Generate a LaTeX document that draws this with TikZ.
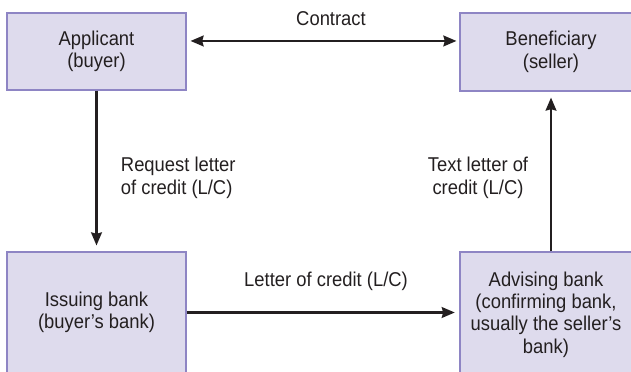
\documentclass[tikz,border=0pt]{standalone}
\usepackage{fontspec}
\setmainfont[FakeStretch=0.92]{Liberation Sans}
\usetikzlibrary{arrows.meta,calc}
\definecolor{boxfill}{HTML}{DEDBED}
\definecolor{boxline}{HTML}{8E85C4}
\definecolor{ink}{HTML}{231F20}
\begin{document}
\begin{tikzpicture}[x=0.75pt,y=-0.75pt,
  >={Stealth[length=9.75pt,width=8pt,inset=1pt]},
  every node/.style={font=\fontsize{15}{16.8}\selectfont, text=ink},
  party/.style={draw=boxline, fill=boxfill, line width=0.8pt, align=center, inner sep=0pt},
  flow/.style={draw=ink, line width=1.9pt},
  lbl/.style={inner sep=0pt}]
\useasboundingbox (0,0) rectangle (631,371);
\clip (0,0) rectangle (631,371);

% the four parties of a documentary credit
\node[party, minimum width=134.25pt, minimum height=57.75pt] (A) at (96.5,51.5) {Applicant\\(buyer)};
\node[party, minimum width=136.5pt, minimum height=58.5pt] (B) at (551,52) {Beneficiary\\(seller)};
\node[party, minimum width=134.25pt, minimum height=90.75pt] (I) at (96.5,312.5) {Issuing bank\\(buyer’s bank)};
\node[party, minimum width=129pt, minimum height=93.75pt] (D) at (546,314.5) {Advising bank\\(confirming bank,\\usually the seller’s\\bank)};

% flows between them
\coordinate (c1) at ([yshift=7.9pt]A.east);
\draw[flow, <->, shorten <=3pt, shorten >=2.25pt] (c1) -- (c1 -| B.west);
\draw[flow, ->, shorten >=4.5pt] (A.south) -- (I.north);
\draw[flow, ->, shorten >=3.5pt] (I.east) -- (I.east -| D.west);
\draw[flow, ->, shorten >=4.5pt] (B.south |- D.north) -- (B.south);

% flow labels
\node[lbl, anchor=base] (contract) at (331,25) {Contract};
\node[lbl, anchor=west, align=left] (request) at (120.7,177.8) {Request letter\\of credit (L/C)};
\node[lbl, align=center] (text) at (478,177.8) {Text letter of\\credit (L/C)};
\node[lbl, anchor=base] (letter) at (326,286) {Letter of credit (L/C)};
\end{tikzpicture}
\end{document}
